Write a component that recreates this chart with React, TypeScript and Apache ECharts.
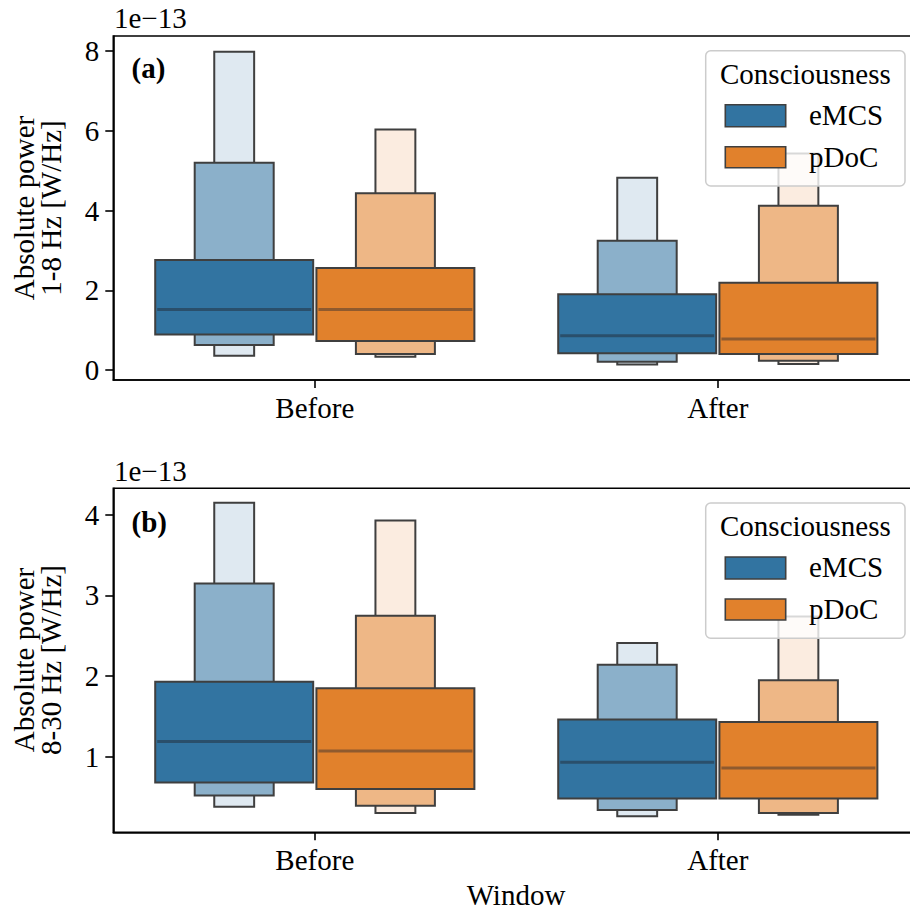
import React, { useEffect, useRef } from "react";
import * as echarts from "echarts";

// ---------- data (values in units of 1e-13 W/Hz) ----------
const windows = ["Before", "After"];
const hues = ["eMCS", "pDoC"];

// letter-value levels per window: [low, high] for level 3 (outermost), level 2, level 1 (box)
const a_eMCS_levels = [
  [[0.36, 7.98], [0.63, 5.2], [0.89, 2.76]],
  [[0.14, 4.82], [0.21, 3.24], [0.42, 1.9]],
];
const a_eMCS_median = [1.52, 0.86];
const a_pDoC_levels = [
  [[0.33, 6.03], [0.4, 4.43], [0.73, 2.56]],
  [[0.15, 5.43], [0.23, 4.12], [0.4, 2.19]],
];
const a_pDoC_median = [1.52, 0.78];

const b_eMCS_levels = [
  [[0.38, 4.15], [0.52, 3.15], [0.68, 1.93]],
  [[0.26, 2.41], [0.34, 2.14], [0.48, 1.46]],
];
const b_eMCS_median = [1.19, 0.93];
const b_pDoC_levels = [
  [[0.3, 3.93], [0.39, 2.75], [0.6, 1.85]],
  [[0.28, 2.74], [0.3, 1.95], [0.48, 1.43]],
];
const b_pDoC_median = [1.07, 0.86];

const a_ticks = [0, 2, 4, 6, 8];
const b_ticks = [1, 2, 3, 4];

// ---------- styles ----------
const FONT = "'Liberation Serif', 'Times New Roman', serif";
const FS = 29;
const EDGE = "#3f3f3f";
const palettes: Record<string, string[]> = {
  eMCS: ["#dfe9f1", "#8bb0ca", "#3274a1"],
  pDoC: ["#fbece0", "#eeb786", "#e1812c"],
};
const medianColor: Record<string, string> = {
  eMCS: "#2a4f6b",
  pDoC: "#8f5a2e",
};
const levelWidths = [0.099, 0.196, 0.392];
const hueOffsets = [-0.2, 0.2];

function buildData(levels: number[][][], medians: number[]) {
  const out: number[][] = [];
  for (let c = 0; c < levels.length; c++) {
    for (let l = 0; l < levels[c].length; l++) {
      out.push([c, levels[c][l][0], levels[c][l][1], l + 1]);
    }
    out.push([c, medians[c], medians[c], 0]);
  }
  return out;
}

function boxenSeries(hue: string, hueIdx: number, panel: number, data: number[][]) {
  const pal = palettes[hue];
  return {
    type: "custom",
    name: hue,
    xAxisIndex: panel,
    yAxisIndex: panel,
    silent: true,
    data,
    renderItem: (params: any, api: any) => {
      const cat = api.value(0);
      const lo = api.value(1);
      const hi = api.value(2);
      const lvl = api.value(3);
      const band = api.size([1, 0])[0];
      const cx = api.coord([cat, 0])[0] + hueOffsets[hueIdx] * band;
      if (lvl === 0) {
        const w = levelWidths[2] * band;
        const y = api.coord([cat, lo])[1];
        return {
          type: "line",
          shape: { x1: cx - w / 2 + 2, y1: y, x2: cx + w / 2 - 2, y2: y },
          style: { stroke: medianColor[hue], lineWidth: 3 },
        };
      }
      const w = levelWidths[lvl - 1] * band;
      const yTop = api.coord([cat, hi])[1];
      const yBot = api.coord([cat, lo])[1];
      return {
        type: "rect",
        shape: { x: cx - w / 2, y: yTop, width: w, height: yBot - yTop },
        style: { fill: pal[lvl - 1], stroke: EDGE, lineWidth: 2 },
      };
    },
  };
}

function legendGroup(top: number) {
  return {
    type: "group",
    z: 100,
    children: [
      {
        type: "rect",
        z: 100,
        shape: { x: 705.7, y: top + 14.7, width: 199.3, height: 135.3, r: 5 },
        style: { fill: "rgba(255,255,255,0.8)", stroke: "#cccccc", lineWidth: 1.5 },
      },
      {
        type: "text",
        z: 101,
        x: 805.4,
        y: top + 38,
        style: { text: "Consciousness", fontFamily: FONT, fontSize: FS, fill: "#000", align: "center", verticalAlign: "middle" },
      },
      {
        type: "rect",
        z: 101,
        shape: { x: 725.3, y: top + 68.7, width: 60.4, height: 22 },
        style: { fill: palettes.eMCS[2], stroke: EDGE, lineWidth: 1.6 },
      },
      {
        type: "text",
        z: 101,
        x: 809,
        y: top + 79,
        style: { text: hues[0], fontFamily: FONT, fontSize: FS, fill: "#000", align: "left", verticalAlign: "middle" },
      },
      {
        type: "rect",
        z: 101,
        shape: { x: 725.3, y: top + 110.7, width: 60.4, height: 21 },
        style: { fill: palettes.pDoC[2], stroke: EDGE, lineWidth: 1.6 },
      },
      {
        type: "text",
        z: 101,
        x: 809,
        y: top + 121,
        style: { text: hues[1], fontFamily: FONT, fontSize: FS, fill: "#000", align: "left", verticalAlign: "middle" },
      },
    ],
  };
}

function textEl(text: string, x: number, y: number, opts: any = {}) {
  return {
    type: "text",
    z: 100,
    x,
    y,
    rotation: opts.rotation || 0,
    style: {
      text,
      fontFamily: FONT,
      fontSize: FS,
      fontWeight: opts.bold ? "bold" : "normal",
      fill: "#000",
      align: opts.align || "left",
      verticalAlign: "middle",
    },
  };
}

const GRID_TOPS = [36, 488.3];
const GRID_H = 344;

function xAxisCfg(gridIndex: number) {
  return {
    gridIndex,
    type: "category",
    data: windows,
    axisLine: { show: true, onZero: false, lineStyle: { color: "#000", width: 1.6 } },
    axisTick: { show: true, alignWithLabel: true, length: 8, lineStyle: { color: "#000", width: 1.6 } },
    axisLabel: { fontFamily: FONT, fontSize: FS, color: "#000", margin: 13 },
    splitLine: { show: false },
  };
}

function yAxisCfg(gridIndex: number, min: number, max: number, ticks: number[]) {
  return {
    gridIndex,
    type: "value",
    min,
    max,
    axisLine: { show: true, onZero: false, lineStyle: { color: "#000", width: 1.6 } },
    axisTick: { show: true, length: 8, customValues: ticks, lineStyle: { color: "#000", width: 1.6 } },
    axisLabel: { fontFamily: FONT, fontSize: FS, color: "#000", margin: 14, customValues: ticks },
    splitLine: { show: false },
  };
}

export default function App() {
  const ref = useRef<HTMLDivElement>(null);
  useEffect(() => {
    if (!ref.current) return;
    const chart = echarts.init(ref.current, null, { renderer: "svg" });
    const option: any = {
      animation: false,
      backgroundColor: "#ffffff",
      grid: GRID_TOPS.map((t) => ({
        left: 113.3,
        top: t,
        width: 806,
        height: GRID_H,
        show: true,
        containLabel: false,
        outerBoundsMode: "none",
        borderColor: "#000",
        borderWidth: 1.6,
        backgroundColor: "transparent",
      })),
      xAxis: [xAxisCfg(0), xAxisCfg(1)],
      yAxis: [yAxisCfg(0, -0.25, 8.376, a_ticks), yAxisCfg(1, 0.062, 4.33, b_ticks)],
      series: [
        boxenSeries("eMCS", 0, 0, buildData(a_eMCS_levels, a_eMCS_median)),
        boxenSeries("pDoC", 1, 0, buildData(a_pDoC_levels, a_pDoC_median)),
        boxenSeries("eMCS", 0, 1, buildData(b_eMCS_levels, b_eMCS_median)),
        boxenSeries("pDoC", 1, 1, buildData(b_pDoC_levels, b_pDoC_median)),
      ],
      graphic: [
        legendGroup(GRID_TOPS[0]),
        legendGroup(GRID_TOPS[1]),
        textEl("(a)", 131.5, 68, { bold: true }),
        textEl("(b)", 131.5, 522, { bold: true }),
        textEl("1e\u221213", 114, 18),
        textEl("1e\u221213", 114, 470.5),
        textEl("Absolute power", 24, 208, { rotation: Math.PI / 2, align: "center" }),
        textEl("1-8 Hz [W/Hz]", 51, 208, { rotation: Math.PI / 2, align: "center" }),
        textEl("Absolute power", 24, 660, { rotation: Math.PI / 2, align: "center" }),
        textEl("8-30 Hz [W/Hz]", 51, 660, { rotation: Math.PI / 2, align: "center" }),
        textEl("Window", 516, 895, { align: "center" }),
      ],
    };
    chart.setOption(option);
    return () => chart.dispose();
  }, []);
  return (
    <div
      ref={ref}
      style={{ position: "fixed", left: 0, top: 0, width: 910, height: 913, background: "#fff" }}
    />
  );
}
